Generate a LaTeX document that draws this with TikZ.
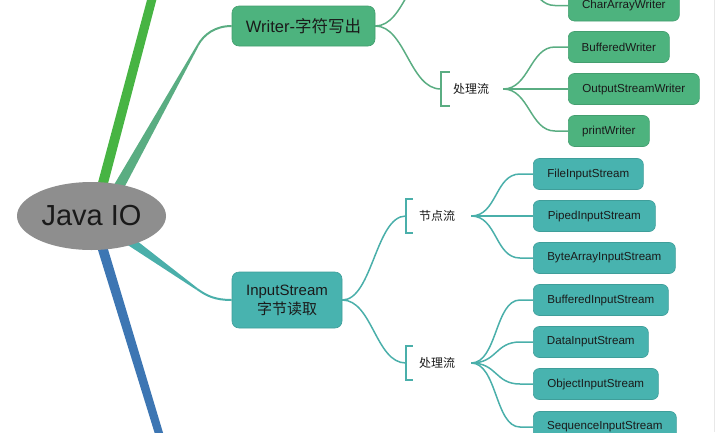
\documentclass[tikz,border=0pt]{standalone}
\usepackage{fontspec}
\setmainfont{Liberation Sans}
\newfontfamily\cjk{Noto Sans CJK SC}
\usetikzlibrary{shapes.geometric,calc,backgrounds}
\definecolor{wfill}{HTML}{4DB37E}
\definecolor{wline}{HTML}{5AAD82}
\definecolor{ifill}{HTML}{48B3AF}
\definecolor{iline}{HTML}{4AAFAA}
\definecolor{gline}{HTML}{47B443}
\definecolor{bline}{HTML}{3D76B3}
\definecolor{ellfill}{HTML}{8E8E8E}
\definecolor{txt}{HTML}{1A1A1A}
\newcommand\wedgebr[5]{\fill[#1] ($(#2)!#4pt!90:(#3)$) -- ($(#3)!#5pt!-90:(#2)$) -- ($(#3)!#5pt!90:(#2)$) -- ($(#2)!#4pt!-90:(#3)$) -- cycle;}
\newcommand\sconn[3]{\draw[#1] (#2) .. controls ($(#2)+(26,0)$) and ($(#3.west)+(-38,0)$) .. ($(#3.west)+(-13,0)$) -- (#3.west);}
\tikzset{
  leafbox/.style={rounded corners=6, line width=0.6, text=txt, minimum height=31, anchor=west, inner sep=0,
     font=\fontsize{11.6}{13}\selectfont},
  wleaf/.style={leafbox, fill=wfill, draw=wfill!88!black},
  ileaf/.style={leafbox, fill=ifill, draw=ifill!88!black},
  wconn/.style={draw=wline, line width=1.5},
  iconn/.style={draw=iline, line width=1.5},
  grouplabel/.style={inner sep=0, text=txt, font=\cjk\fontsize{12}{13}\selectfont},
}
\begin{document}
\begin{tikzpicture}[x=1pt,y=-1pt]
\useasboundingbox (0,0) rectangle (720,432);
\clip (0,0) rectangle (720,432);
\draw[black!9, line width=1] (714.5,0) -- (714.5,432);

% central node
\node[ellipse, fill=ellfill, minimum width=149, minimum height=68, inner sep=0, text=txt,
      font=\fontsize{29}{32}\selectfont] (java) at (91.5,216) {Java IO};

% Writer node
\node[rounded corners=7, fill=wfill, draw=wfill!88!black, line width=0.6, minimum width=143, minimum height=40,
      inner sep=0, text=txt, font=\fontsize{16.5}{18}\selectfont] (writer) at (303.5,26) {Writer-{\cjk 字符写出}};

% InputStream node
\node[rounded corners=7, fill=ifill, draw=ifill!88!black, line width=0.6, minimum width=110, minimum height=56,
      inner sep=0, text=txt, align=center, font=\fontsize{15}{19}\selectfont] (instream) at (287,300)
      {InputStream\\{\cjk 字节读取}};

% Writer group labels
\coordinate (wnbr) at (441,-37);
\coordinate (wnout) at (503,-37);
\node[grouplabel] (wproc) at (471,89) {处理流};
\coordinate (wpbr) at ($(wproc.west)+(-12,0)$);
\coordinate (wpout) at ($(wproc.east)+(14,0)$);

% Writer leaves
\node[wleaf, minimum width=111] (caw) at (568,5.5) {CharArrayWriter};
\node[wleaf, minimum width=101] (bw) at (568,47) {BufferedWriter};
\node[wleaf, minimum width=131] (osw) at (568,89) {OutputStreamWriter};
\node[wleaf, minimum width=81] (pw) at (568,131) {printWriter};

% Input group labels
\node[grouplabel] (inode) at (437,216) {节点流};
\coordinate (inbr) at ($(inode.west)+(-13,0)$);
\coordinate (inout) at ($(inode.east)+(16,0)$);
\node[grouplabel] (iproc) at (437,363) {处理流};
\coordinate (ipbr) at ($(iproc.west)+(-13,0)$);
\coordinate (ipout) at ($(iproc.east)+(16,0)$);

% Input leaves
\node[ileaf, minimum width=110] (fis) at (533,174) {FileInputStream};
\node[ileaf, minimum width=122] (pis) at (533,216) {PipedInputStream};
\node[ileaf, minimum width=142] (bais) at (533,258) {ByteArrayInputStream};
\node[ileaf, minimum width=135] (bis) at (533,300) {BufferedInputStream};
\node[ileaf, minimum width=115] (dis) at (533,342) {DataInputStream};
\node[ileaf, minimum width=125] (ois) at (533,384) {ObjectInputStream};
\node[ileaf, minimum width=143] (sis) at (533,427) {SequenceInputStream};

\begin{scope}[on background layer]
  \clip (0,0) rectangle (720,432);
  % main branches
  \coordinate (gA) at (98.5,200); \coordinate (gB) at (153,-5);
  \wedgebr{gline}{gA}{gB}{5}{4.5}
  \coordinate (bA) at (97,230); \coordinate (bB) at (161,440);
  \wedgebr{bline}{bA}{bB}{5}{4}
  \coordinate (wA) at (112,199); \coordinate (wB) at (198,45);
  \wedgebr{wline}{wA}{wB}{5.5}{1}
  \draw[wline, line width=2] (wB) .. controls (203.9,34.5) and (215,26) .. (writer.west);
  \coordinate (iA) at (120,234); \coordinate (iB) at (197,289);
  \wedgebr{iline}{iA}{iB}{5}{1}
  \draw[iline, line width=2] (iB) .. controls (207,296) and (215,300) .. (instream.west);

  % writer -> groups
  \draw[wconn] (writer.east) .. controls ($(writer.east)+(30,0)$) and ($(wnbr)+(-31,0)$) .. (wnbr);
  \draw[wconn] (writer.east) .. controls ($(writer.east)+(30,0)$) and ($(wpbr)+(-31,0)$) .. (wpbr);
  \draw[wconn] ($(wpbr)+(9,-17)$) -- ($(wpbr)+(0,-17)$) -- ($(wpbr)+(0,17)$) -- ($(wpbr)+(9,17)$);
  \sconn{wconn}{wnout}{caw}
  \sconn{wconn}{wpout}{bw}
  \sconn{wconn}{wpout}{osw}
  \sconn{wconn}{wpout}{pw}

  % input -> groups
  \draw[iconn] (instream.east) .. controls ($(instream.east)+(30,0)$) and ($(inbr)+(-30,0)$) .. (inbr);
  \draw[iconn] (instream.east) .. controls ($(instream.east)+(30,0)$) and ($(ipbr)+(-30,0)$) .. (ipbr);
  \draw[iconn] ($(inbr)+(7,-17)$) -- ($(inbr)+(0,-17)$) -- ($(inbr)+(0,17)$) -- ($(inbr)+(7,17)$);
  \draw[iconn] ($(ipbr)+(7,-17)$) -- ($(ipbr)+(0,-17)$) -- ($(ipbr)+(0,17)$) -- ($(ipbr)+(7,17)$);
  \sconn{iconn}{inout}{fis}
  \sconn{iconn}{inout}{pis}
  \sconn{iconn}{inout}{bais}
  \sconn{iconn}{ipout}{bis}
  \sconn{iconn}{ipout}{dis}
  \sconn{iconn}{ipout}{ois}
  \sconn{iconn}{ipout}{sis}
\end{scope}
\end{tikzpicture}
\end{document}
